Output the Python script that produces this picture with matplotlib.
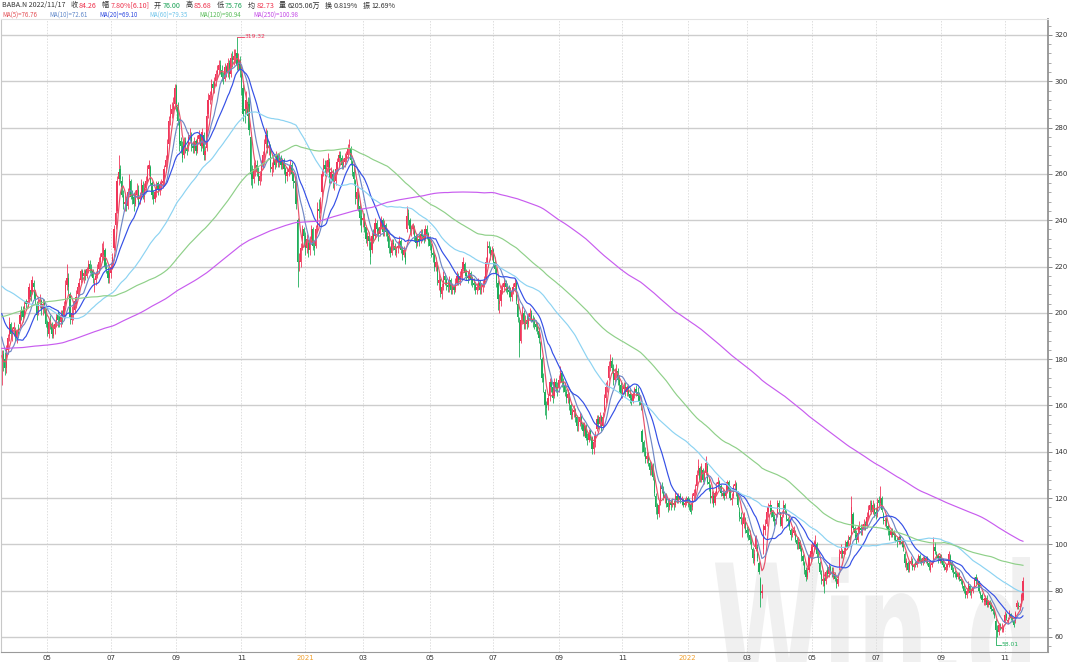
import numpy as np
import pandas as pd
import matplotlib
matplotlib.use("Agg")
import matplotlib.pyplot as plt
from matplotlib.textpath import TextPath
from matplotlib.patches import PathPatch
from matplotlib.font_manager import FontProperties
from matplotlib.ticker import MultipleLocator
import matplotlib.transforms as mtransforms

# ---------------- data (BABA.N daily, 2020-03-19 .. 2022-11-17) ----------------
pre_closes = [
    183, 182, 179, 178, 180, 181, 181, 182,
    183, 186, 185, 187, 188, 188, 188, 186, 187, 185, 188, 188, 187, 189, 190, 188, 190, 191, 190, 186, 186,
    187, 189, 186, 181, 176, 175, 176, 172, 169, 172, 168, 172, 170, 164, 160, 158, 156, 153, 155, 153, 150, 149,
    150, 148, 152, 154, 155, 154, 155, 156, 158, 158, 160, 161, 163, 164, 166, 164, 164, 166, 168, 169,
    172, 174, 175, 172, 172, 171, 171, 172, 173, 173, 171, 170, 170, 172, 173, 174, 175, 176, 178, 177, 174, 173,
    171, 167, 163, 163, 164, 163, 161, 160, 162, 164, 166, 166, 165, 166, 168, 170, 171, 169, 167, 168, 170, 171,
    172, 174, 175, 178, 180, 182, 181, 180, 178, 178, 180, 178, 177, 176, 174, 171, 169, 170, 168, 167,
    165, 164, 166, 168, 165, 164, 166, 169, 170, 171, 171, 171, 170, 169, 171, 172, 173, 174, 175, 175, 177, 178, 177,
    180, 182, 182, 184, 185, 186, 186, 187, 186, 185, 185, 186, 187, 186, 187, 190, 193, 196, 199, 200,
    201, 203, 205, 205, 206, 206, 207, 207, 208, 208, 209, 210, 211, 212, 212, 212, 213, 213, 212, 211, 212,
    216, 217, 218, 220, 222, 224, 226, 228, 227, 226, 225, 224, 223, 220, 217, 210, 209, 211, 210, 206, 206,
    208, 213, 215, 216, 218, 220, 221, 221, 222, 222, 223, 222, 220, 218, 212, 212, 210, 207, 205,
    208, 206, 210, 210, 206, 197, 203, 198, 184, 190, 178, 184, 173,
]

closes = [
    182, 179, 176, 185, 189, 196, 191, 193, 194,
    190, 192, 191, 199, 200, 198, 203, 204, 205, 211, 207, 214, 211, 206, 199, 204, 205, 201, 204, 202, 195,
    193, 196, 195, 191, 193, 195, 198, 197, 196, 199, 198, 203, 212, 215, 211, 198, 200, 201, 205, 207,
    211, 213, 218, 216, 217, 216, 219, 221, 219, 218, 215, 213, 216, 219, 222, 224, 226, 228, 220, 219, 215, 217,
    220, 224, 236, 243, 257, 261, 258, 251, 247, 248, 246, 252, 258, 250, 249, 247, 251, 253, 248, 250, 256, 251,
    254, 257, 262, 264, 256, 251, 249, 252, 255, 253, 255, 256, 257, 262, 266, 272, 283, 286, 288, 290, 297,
    289, 283, 273, 272, 267, 274, 271, 270, 276, 277, 272, 271, 274, 270, 275, 277, 272, 278, 268, 270, 285,
    292, 294, 299, 297, 300, 303, 305, 307, 305, 302, 301, 306, 304, 308, 303, 310, 309, 311, 312, 307, 309, 305,
    297, 286, 287, 292, 285, 279, 260, 258, 262, 264, 261, 257, 259, 264, 268, 273, 277, 271, 272, 263,
    263, 266, 264, 268, 265, 267, 264, 266, 262, 259, 261, 262, 264, 260, 257, 256, 247, 222, 222, 228, 236, 233,
    228, 232, 227, 231, 236, 229, 228, 236, 245, 244, 248, 260, 264, 262, 262, 266, 258, 261, 257,
    257, 262, 265, 268, 267, 264, 265, 267, 268, 271, 272, 266, 261, 258, 250, 252, 246, 241, 238,
    241, 237, 232, 233, 231, 224, 233, 232, 239, 236, 234, 237, 240, 235, 238, 235, 233, 228, 226, 230, 229, 227, 227,
    229, 231, 227, 225, 227, 222, 242, 240, 236, 236, 237, 233, 230, 232, 231, 234, 233, 232, 236, 234, 231,
    229, 226, 225, 220, 222, 214, 214, 209, 211, 216, 214, 212, 211, 214, 210, 211, 210, 213, 216, 214,
    216, 219, 222, 217, 216, 215, 217, 214, 213, 212, 210, 211, 213, 210, 211, 212, 214, 222, 229, 228, 225, 227,
    222, 219, 213, 206, 205, 210, 211, 213, 211, 210, 209, 207, 209, 211, 213, 205, 198, 187, 197, 200, 195,
    196, 195, 198, 200, 197, 196, 195, 194, 192, 189, 181, 172, 170, 160, 159, 163, 170, 168, 163, 170, 168, 167,
    171, 174, 170, 169, 166, 163, 165, 160, 156, 157, 158, 155, 151, 153, 155, 152, 149, 151, 146, 145, 148,
    146, 141, 144, 147, 154, 152, 155, 151, 155, 163, 168, 169, 177, 179, 176, 171, 174, 175, 171, 169, 165,
    167, 168, 166, 168, 165, 163, 162, 165, 167, 166, 164, 162, 160, 144, 140, 137, 138, 136, 132, 134, 129,
    122, 116, 113, 117, 125, 124, 120, 121, 118, 116, 118, 117, 118, 117, 121, 119, 121, 119, 119, 117, 118, 119,
    118, 117, 114, 121, 122, 124, 130, 134, 128, 134, 128, 131, 135, 127, 126, 120, 121, 117, 122, 125,
    127, 126, 122, 122, 121, 122, 127, 124, 120, 120, 125, 126, 122, 117, 112, 111, 109, 113, 106,
    105, 104, 102, 100, 94, 96, 103, 94, 88, 78, 80, 108, 108, 114, 116, 117, 114, 112, 110, 111, 118, 116, 109,
    112, 117, 115, 111, 110, 108, 104, 105, 106, 102, 100, 101, 98, 95, 93, 89, 86, 88, 95, 97,
    99, 100, 101, 96, 94, 88, 85, 85, 82, 88, 87, 90, 88, 87, 88, 85, 83, 85, 96, 97, 96,
    97, 100, 99, 102, 102, 116, 107, 105, 102, 105, 108, 106, 107, 109, 108, 112, 115, 117, 115, 117, 114,
    113, 118, 118, 120, 115, 110, 110, 108, 106, 104, 106, 104, 104, 102, 101, 103, 101, 101, 99, 92,
    93, 89, 92, 93, 90, 91, 91, 93, 95, 93, 92, 94, 93, 94, 92, 90, 91, 92, 99, 97, 95, 94, 95,
    93, 91, 90, 90, 91, 96, 92, 89, 88, 87, 86, 87, 85, 84, 82, 80, 78, 80, 83, 79, 80,
    81, 85, 84, 85, 80, 78, 76, 76, 77, 74, 75, 74, 72, 71, 69, 63, 62, 65, 64, 64, 64,
    69.5, 68.2, 67.2, 70.5, 68.4, 67.9, 65.2, 70.3, 74.6, 73.5, 73.28, 78.16, 84.26,
]

opens = [
    172, 182, 180, 176, 184, 190, 195, 191, 193,
    192, 189, 193, 195, 201, 201, 199, 205, 204, 206, 210, 209, 213, 209, 204, 200, 205, 205, 202, 205, 201,
    196, 191, 197, 195, 190, 193, 196, 199, 198, 196, 199, 199, 204, 212, 215, 208, 197, 201, 201, 204,
    208, 211, 214, 218, 216, 218, 216, 219, 221, 219, 218, 212, 214, 217, 219, 222, 224, 225, 227, 220, 218, 215,
    217, 221, 228, 238, 244, 258, 262, 257, 251, 247, 249, 246, 253, 257, 251, 250, 247, 251, 253, 249, 251, 255,
    250, 254, 257, 262, 263, 256, 251, 249, 252, 256, 253, 255, 256, 257, 263, 266, 273, 284, 286, 288, 290,
    298, 289, 283, 274, 272, 268, 274, 271, 271, 276, 277, 272, 271, 274, 270, 275, 277, 272, 277, 268, 271,
    286, 292, 294, 299, 297, 300, 303, 305, 307, 305, 302, 301, 306, 304, 308, 303, 310, 309, 311, 312, 307, 309,
    303, 297, 288, 288, 291, 290, 276, 260, 258, 262, 264, 261, 257, 259, 264, 268, 273, 277, 271, 272,
    262, 263, 266, 264, 268, 265, 267, 264, 266, 262, 259, 261, 262, 264, 260, 257, 256, 240, 222, 222, 228, 236,
    233, 228, 230, 227, 232, 236, 229, 229, 237, 245, 245, 252, 261, 264, 262, 263, 265, 258, 260,
    256, 257, 262, 265, 268, 267, 264, 265, 267, 268, 272, 271, 265, 261, 257, 249, 252, 246, 242,
    240, 241, 237, 231, 233, 230, 227, 234, 233, 239, 236, 234, 237, 240, 235, 238, 235, 233, 228, 226, 230, 229, 226,
    228, 229, 231, 227, 225, 226, 236, 243, 240, 236, 236, 237, 233, 230, 232, 231, 234, 233, 232, 236, 234,
    232, 229, 226, 225, 220, 221, 213, 214, 208, 211, 216, 214, 212, 211, 214, 210, 211, 210, 213, 216,
    214, 216, 219, 221, 217, 216, 215, 217, 214, 213, 212, 210, 211, 213, 210, 211, 212, 215, 222, 229, 228, 225,
    227, 222, 219, 213, 204, 205, 210, 211, 213, 211, 210, 209, 207, 209, 211, 213, 204, 196, 188, 197, 200,
    195, 197, 195, 198, 200, 197, 196, 195, 194, 192, 187, 180, 172, 166, 160, 160, 164, 170, 168, 164, 170, 168,
    168, 171, 174, 170, 169, 166, 163, 165, 160, 156, 157, 158, 155, 151, 153, 155, 152, 149, 151, 146, 145,
    149, 146, 141, 144, 150, 154, 152, 155, 151, 158, 163, 168, 172, 177, 179, 176, 171, 174, 175, 171, 169,
    165, 167, 168, 166, 168, 165, 163, 162, 165, 167, 166, 164, 162, 149, 144, 140, 137, 138, 135, 132, 134,
    128, 121, 117, 113, 118, 125, 124, 120, 121, 118, 116, 118, 117, 118, 117, 121, 119, 121, 119, 119, 117, 118,
    120, 118, 117, 116, 121, 122, 125, 131, 133, 128, 132, 128, 131, 134, 127, 125, 120, 121, 118, 122,
    126, 127, 125, 121, 122, 121, 123, 127, 124, 119, 121, 125, 126, 122, 114, 112, 108, 109, 111,
    106, 105, 104, 101, 98, 93, 98, 99, 92, 85, 79, 98, 106, 109, 114, 116, 117, 114, 112, 110, 113, 118, 114,
    108, 113, 117, 114, 111, 110, 106, 104, 105, 105, 102, 100, 101, 98, 95, 92, 89, 86, 89, 94,
    96, 99, 100, 100, 95, 92, 87, 84, 85, 84, 89, 87, 90, 88, 86, 87, 85, 83, 90, 96, 97,
    96, 97, 101, 100, 103, 104, 113, 107, 104, 102, 106, 107, 106, 107, 109, 108, 112, 115, 118, 114, 117,
    114, 113, 119, 118, 120, 113, 110, 111, 108, 106, 104, 106, 105, 104, 102, 101, 103, 100, 101, 96,
    91, 92, 89, 92, 93, 90, 92, 91, 93, 95, 93, 92, 94, 93, 94, 92, 89, 91, 93, 99, 96, 95, 93,
    95, 93, 91, 89, 90, 91, 95, 92, 89, 88, 87, 86, 87, 85, 84, 82, 80, 78, 80, 82, 79,
    80, 82, 86, 84, 84, 79, 78, 76, 75, 77, 74, 75, 74, 72, 71, 67, 63, 62, 65, 64, 63,
    66, 70, 67, 69, 70, 68, 67, 67, 73, 74, 73, 74, 76.00,
]

highs = [
    184, 184, 183, 186, 191, 198, 196, 194, 196,
    194, 193, 195, 201, 203, 203, 205, 206, 207, 213, 212, 216, 214, 210, 205, 206, 208, 206, 206, 206, 202,
    197, 197, 199, 196, 195, 197, 200, 201, 200, 201, 201, 205, 214, 221, 217, 209, 203, 205, 207, 210,
    212, 215, 219, 219, 219, 219, 220, 223, 223, 221, 219, 215, 218, 221, 224, 226, 230, 231, 228, 222, 220, 219,
    222, 226, 238, 246, 259, 268, 264, 259, 253, 251, 250, 254, 260, 258, 253, 252, 253, 256, 255, 252, 258, 257,
    256, 259, 264, 266, 264, 257, 253, 254, 257, 257, 257, 258, 259, 264, 268, 275, 285, 290, 291, 293, 299,
    299, 291, 284, 276, 274, 276, 276, 273, 278, 280, 278, 274, 276, 275, 277, 279, 278, 280, 278, 272, 287,
    295, 296, 301, 300, 302, 305, 307, 309, 309, 307, 304, 308, 307, 310, 309, 312, 313, 314, 314, 319.32, 312, 311,
    305, 299, 292, 296, 293, 293, 278, 264, 265, 266, 266, 263, 261, 266, 270, 275, 280, 279, 274, 273,
    265, 268, 267, 270, 269, 269, 268, 267, 267, 263, 263, 264, 266, 265, 261, 259, 257, 241, 226, 230, 238, 237,
    235, 234, 232, 233, 238, 237, 231, 238, 248, 249, 250, 262, 267, 266, 266, 269, 267, 263, 262,
    260, 264, 267, 270, 270, 268, 267, 269, 270, 273, 275, 272, 266, 263, 258, 254, 254, 248, 245,
    243, 243, 238, 235, 235, 231, 235, 236, 241, 240, 237, 239, 242, 241, 240, 239, 236, 234, 229, 232, 232, 230, 229,
    231, 233, 232, 229, 229, 227, 246, 245, 241, 238, 239, 238, 234, 234, 234, 236, 236, 235, 238, 238, 235,
    233, 230, 228, 226, 224, 222, 217, 215, 213, 218, 217, 215, 214, 216, 215, 213, 212, 215, 218, 217,
    218, 221, 224, 222, 219, 218, 219, 218, 216, 215, 213, 213, 215, 214, 213, 214, 216, 224, 231, 231, 229, 229,
    228, 224, 220, 214, 208, 212, 213, 215, 214, 213, 212, 211, 211, 213, 215, 214, 205, 198, 199, 203, 201,
    199, 199, 200, 202, 201, 199, 198, 197, 196, 194, 188, 181, 174, 167, 162, 165, 172, 172, 169, 172, 172, 170,
    173, 177, 175, 172, 170, 167, 167, 166, 161, 159, 160, 159, 156, 155, 157, 156, 153, 153, 152, 148, 150,
    150, 147, 145, 149, 156, 156, 157, 156, 157, 165, 170, 171, 179, 182, 181, 178, 176, 178, 176, 173, 170,
    169, 170, 170, 169, 169, 167, 165, 166, 168, 169, 168, 166, 163, 150, 145, 142, 140, 140, 136, 135, 135,
    130, 122, 118, 119, 127, 127, 125, 122, 122, 119, 120, 119, 120, 119, 123, 122, 122, 122, 121, 120, 120, 121,
    121, 120, 118, 122, 124, 126, 132, 137, 134, 135, 133, 132, 138, 135, 129, 126, 123, 123, 123, 127,
    129, 128, 126, 124, 123, 124, 128, 128, 125, 122, 126, 128, 127, 123, 116, 114, 112, 114, 112,
    108, 107, 106, 103, 99, 98, 104, 100, 93, 86, 83, 109, 111, 116, 118, 119, 117, 115, 113, 113, 119, 119, 114,
    113, 119, 118, 115, 112, 111, 107, 107, 108, 106, 103, 103, 102, 99, 96, 93, 90, 90, 96, 100,
    101, 102, 104, 101, 97, 93, 89, 88, 86, 89, 91, 92, 91, 90, 90, 88, 86, 87, 98, 100, 98,
    99, 102, 102, 104, 104, 121, 114, 108, 106, 107, 110, 109, 109, 111, 110, 114, 117, 119, 119, 119, 118,
    116, 120, 121, 125, 121, 114, 112, 112, 109, 107, 107, 107, 106, 105, 103, 104, 104, 102, 102, 97,
    94, 93, 93, 95, 94, 92, 93, 94, 96, 96, 94, 95, 95, 95, 95, 93, 92, 93, 103, 101, 97, 96, 96,
    96, 94, 92, 91, 92, 97, 96, 93, 90, 89, 88, 88, 88, 86, 85, 83, 81, 81, 84, 83, 81,
    82, 86, 87, 86, 84, 80, 79, 77, 78, 78, 76, 76, 75, 73, 72, 68, 65, 66, 66, 66, 65,
    71, 70.5, 68.5, 71.5, 70.5, 69, 67.5, 71, 76, 75, 74.5, 79, 85.68,
]

lows = [
    169, 175, 173, 174, 182, 188, 189, 188, 190,
    188, 187, 189, 194, 197, 196, 198, 201, 202, 205, 205, 208, 209, 204, 197, 199, 202, 199, 199, 200, 194,
    190, 189, 193, 189, 189, 191, 194, 194, 194, 194, 195, 197, 203, 210, 208, 195, 195, 197, 200, 202,
    207, 209, 213, 214, 213, 214, 215, 217, 217, 216, 213, 209, 212, 215, 217, 220, 222, 223, 219, 217, 213, 213,
    215, 220, 227, 236, 243, 255, 256, 250, 245, 244, 244, 245, 251, 249, 247, 244, 246, 249, 246, 247, 249, 249,
    248, 252, 256, 259, 255, 249, 247, 248, 250, 251, 251, 253, 254, 255, 261, 264, 271, 281, 284, 285, 288,
    287, 281, 270, 269, 265, 267, 269, 268, 270, 274, 270, 269, 269, 268, 269, 273, 270, 271, 266, 266, 270,
    284, 290, 292, 295, 295, 298, 301, 303, 303, 300, 299, 300, 302, 302, 301, 302, 306, 307, 308, 305, 305, 302,
    294, 283, 282, 286, 283, 277, 255, 254, 256, 259, 259, 255, 255, 257, 262, 266, 271, 269, 268, 261,
    259, 261, 262, 263, 263, 263, 262, 262, 260, 256, 257, 259, 260, 258, 254, 252, 245, 211, 218, 220, 227, 229,
    225, 226, 224, 225, 230, 227, 225, 228, 235, 241, 243, 250, 259, 259, 259, 261, 256, 256, 254,
    253, 255, 260, 263, 265, 262, 262, 263, 265, 266, 269, 264, 259, 255, 247, 245, 244, 238, 235,
    237, 235, 230, 229, 227, 221, 226, 230, 232, 234, 231, 233, 236, 233, 233, 233, 231, 226, 224, 225, 227, 225, 224,
    226, 228, 226, 223, 224, 221, 235, 238, 234, 233, 234, 231, 228, 229, 229, 230, 231, 230, 231, 232, 229,
    227, 224, 222, 218, 218, 212, 210, 207, 206, 210, 212, 210, 209, 209, 208, 208, 208, 209, 212, 212,
    212, 214, 218, 216, 214, 213, 214, 212, 211, 210, 208, 208, 210, 208, 208, 209, 211, 214, 221, 226, 223, 223,
    220, 217, 211, 201, 200, 203, 208, 210, 209, 208, 207, 205, 205, 208, 210, 204, 196, 181, 187, 195, 193,
    193, 193, 194, 197, 196, 194, 193, 192, 191, 187, 180, 170, 166, 156, 154, 158, 162, 166, 161, 163, 166, 164,
    166, 170, 168, 166, 164, 161, 161, 158, 154, 154, 155, 153, 149, 149, 151, 150, 147, 147, 145, 143, 144,
    145, 139, 139, 142, 149, 150, 151, 149, 150, 157, 161, 166, 171, 175, 174, 169, 170, 172, 169, 166, 164,
    163, 165, 164, 164, 164, 161, 160, 161, 163, 164, 162, 160, 158, 140, 138, 135, 135, 134, 130, 130, 128,
    121, 113, 111, 112, 117, 122, 119, 118, 116, 114, 115, 115, 116, 115, 116, 118, 118, 118, 117, 116, 116, 117,
    116, 115, 113, 115, 119, 120, 124, 130, 127, 127, 127, 126, 130, 126, 123, 118, 118, 116, 117, 121,
    124, 124, 121, 120, 119, 120, 122, 123, 119, 117, 120, 123, 121, 116, 110, 109, 103, 107, 105,
    103, 102, 100, 98, 92, 91, 97, 93, 87, 73, 77, 96, 104, 108, 112, 114, 112, 110, 108, 109, 112, 114, 108,
    107, 112, 113, 110, 108, 106, 102, 103, 104, 101, 98, 98, 97, 93, 91, 87, 84, 85, 88, 93,
    94, 97, 98, 95, 92, 87, 83, 82, 79, 83, 86, 86, 87, 86, 85, 84, 81, 82, 89, 94, 94,
    95, 96, 98, 99, 100, 104, 106, 103, 100, 101, 105, 104, 104, 106, 106, 107, 111, 114, 113, 113, 112,
    111, 112, 116, 117, 114, 109, 108, 107, 104, 102, 103, 103, 102, 101, 99, 100, 100, 99, 97, 90,
    89, 88, 88, 91, 89, 89, 90, 90, 92, 92, 91, 91, 92, 92, 91, 89, 88, 90, 92, 96, 94, 92, 92,
    92, 90, 89, 88, 89, 90, 91, 88, 86, 86, 85, 85, 84, 83, 81, 79, 77, 77, 79, 78, 77,
    79, 81, 83, 83, 79, 77, 75, 74, 74, 73, 73, 73, 71, 70, 68, 58.01, 60, 61, 63, 62, 62,
    65.5, 67.5, 65.5, 68.5, 67.5, 66.5, 64.5, 66, 72, 72, 71.5, 73.5, 75.76,
]

holidays = [
    "2020-04-10", "2020-05-25", "2020-07-03", "2020-09-07", "2020-11-26", "2020-12-25",
    "2021-01-01", "2021-01-18", "2021-02-15", "2021-04-02", "2021-05-31", "2021-07-05",
    "2021-09-06", "2021-11-25", "2021-12-24",
    "2022-01-17", "2022-02-21", "2022-04-15", "2022-05-30", "2022-06-20", "2022-07-04",
    "2022-09-05",
]

ma_periods = [5, 10, 20, 60, 120, 250]
ma_header_values = ["76.76", "72.61", "69.10", "79.35", "90.94", "100.98"]
ma_colors = ["#e8526a", "#7088c6", "#3550e6", "#8cd3f2", "#8fd089", "#c85cef"]
legend_colors = ["#e34f55", "#5f87c9", "#2b46de", "#6fc4ea", "#55bb55", "#c246e6"]

header_items = [
    ("BABA.N 2022/11/17", "dark"), ("收", "dark"), ("84.26", "up"), ("幅", "dark"),
    ("7.80%[6.10]", "up"), ("开", "dark"), ("76.00", "down"), ("高", "dark"), ("85.68", "up"),
    ("低", "dark"), ("75.76", "down"), ("均", "dark"), ("82.73", "up"), ("量", "dark"),
    ("6205.06万", "dark"), ("换", "dark"), ("0.819%", "dark"), ("振", "dark"), ("12.69%", "dark"),
]

# ---------------- figure ----------------
W, H = 1080, 662
UP, DOWN, DARK = "#f0365a", "#1fae5b", "#333333"
cmap = {"up": "#ee2f4a", "down": "#15a052", "dark": DARK}
CJK = ["Noto Sans CJK SC", "DejaVu Sans"]

o = np.array(opens, float)
c = np.array(closes, float)
h = np.array(highs, float)
l = np.array(lows, float)
N = len(c)
assert len(o) == N and len(h) == N and len(l) == N, (len(o), len(c), len(h), len(l))
h = np.maximum(h, np.maximum(o, c))
l = np.minimum(l, np.minimum(o, c))
x = np.arange(N)

dates = pd.bdate_range(end="2022-11-17", periods=N, freq="C", holidays=holidays)

fig = plt.figure(figsize=(W / 100, H / 100), dpi=100)
fig.patch.set_facecolor("white")
ax = fig.add_axes([0.5 / W, 1 - 652 / H, 1047.5 / W, (652 - 19) / H])
ax.set_facecolor("none")

ax.set_xlim(-0.8, N - 1 + 16.5)
ax.set_ylim(53.5, 326.9)

# watermark
tp = TextPath((0, 0), "Win.d", size=100, prop=FontProperties(family="DejaVu Sans", weight="bold"))
ext = tp.get_extents()
sx = 315.0 / ext.width
sy = 140.0 / ext.height
trans = mtransforms.Affine2D().translate(-ext.x0, -ext.y0).scale(sx, sy).translate(715, -35)
wm = PathPatch(tp, transform=trans, facecolor="#f0f0f0", edgecolor="none", zorder=0.2)
wm.set_clip_on(False)
ax.add_patch(wm)

# grid
for v in range(60, 321, 20):
    ax.axhline(v, color="#cdcdcd", lw=1.0, zorder=0.6)

ticks, labels = [], []
for i in range(1, N):
    if dates[i].month != dates[i - 1].month and dates[i].month % 2 == 1:
        ticks.append(i)
        labels.append(str(dates[i].year) if dates[i].month == 1 else f"{dates[i].month:02d}")
for t in ticks:
    ax.axvline(t, color="#dedede", lw=0.7, ls=(0, (1.5, 1.5)), zorder=0.5)

# candles
up = c >= o
cols = np.where(up, UP, DOWN)
body_lo = np.minimum(o, c)
body_h = np.maximum(np.abs(c - o), 0.35)
ax.vlines(x, l, h, colors=cols, lw=0.6, zorder=2)
ax.bar(x, body_h, bottom=body_lo, width=0.8, color=cols, linewidth=0, zorder=2.1)

# moving averages
allc = pd.Series(np.array(pre_closes + closes, float))
npre = len(pre_closes)
for p, col in zip(ma_periods, ma_colors):
    ma = allc.rolling(p).mean().values[npre:]
    ax.plot(x, ma, color=col, lw=0.85, zorder=3)

# max / min annotations
imax = int(np.argmax(h))
ax.plot([imax, imax + 4.5], [h[imax], h[imax]], color=UP, lw=0.6, zorder=4)
ax.text(imax + 5, h[imax], f"{h[imax]:.2f}", color=UP, fontsize=4.3, va="center", ha="left", zorder=4)
imin = int(np.argmin(l))
ax.plot([imin, imin, imin + 3.5], [l[imin], l[imin] - 1.4, l[imin] - 1.4], color=DOWN, lw=0.6, zorder=4)
ax.text(imin + 4, l[imin] - 1.4, f"{l[imin]:.2f}", color=DOWN, fontsize=4.3, va="center", ha="left", zorder=4)

# axes styling
ax.set_xticks(ticks)
ax.set_xticklabels(labels)
for lab, txt in zip(ax.get_xticklabels(), labels):
    lab.set_color("#f0a030" if len(txt) == 4 else "#333333")
ax.tick_params(axis="x", length=0, pad=2.2, labelsize=5)

ax.yaxis.tick_right()
ax.set_yticks(range(60, 321, 20))
ax.yaxis.set_minor_locator(MultipleLocator(4))
ax.tick_params(axis="y", which="major", direction="out", length=3, width=0.6, color="#777777",
               labelsize=5, labelcolor="#333333", pad=1.5)
ax.tick_params(axis="y", which="minor", direction="out", length=1.8, width=0.5, color="#888888")

for side, col, lw in [("left", "#c8c8c8", 0.8), ("bottom", "#9a9a9a", 0.8),
                      ("right", "#8a8a8a", 1.2), ("top", "#e2e2e2", 0.8)]:
    ax.spines[side].set_color(col)
    ax.spines[side].set_linewidth(lw)

# header line 1 (sequential)
renderer = fig.canvas.get_renderer()
xpos = 2.0
for k, (s, kind) in enumerate(header_items):
    t = fig.text(xpos / W, 1 - 5.5 / H, s, color=cmap[kind], fontsize=5.1, family=CJK,
                 va="center", ha="left")
    bb = t.get_window_extent(renderer)
    nxt_is_value = (k + 1 < len(header_items)) and kind == "dark" and len(s) == 1
    xpos = bb.x1 + (1.3 if nxt_is_value else 5.0)

# header line 2 (MA legend)
leg_x = [2, 49, 99, 149, 199, 253]
for p, v, col, lx in zip(ma_periods, ma_header_values, legend_colors, leg_x):
    fig.text(lx / W, 1 - 15.3 / H, f"MA({p})={v}", color=col, fontsize=4.4, family=CJK,
             va="center", ha="left")

fig.savefig("out.png", dpi=100)
